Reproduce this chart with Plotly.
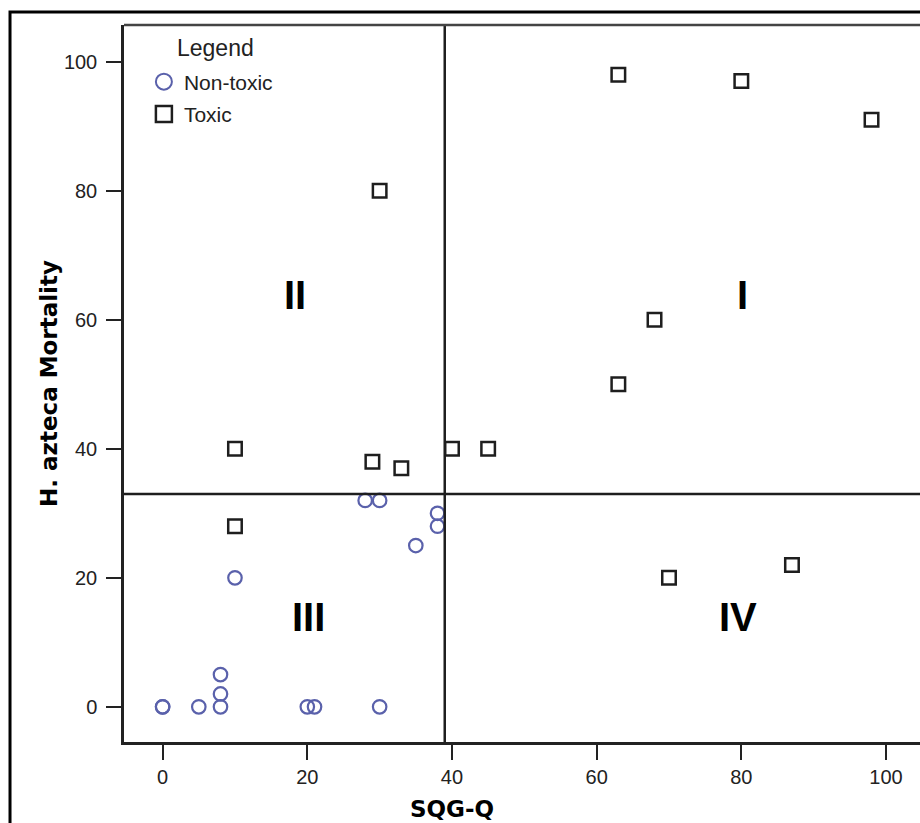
import plotly.graph_objects as go

# ---- data ----
nontoxic_x = [28, 30, 38, 38, 35, 10, 8, 8, 8, 0, 0, 5, 20, 21, 30]
nontoxic_y = [32, 32, 30, 28, 25, 20, 5, 2, 0, 0, 0, 0, 0, 0, 0]

toxic_x = [30, 63, 80, 98, 68, 63, 10, 29, 33, 40, 45, 10, 70, 87]
toxic_y = [80, 98, 97, 91, 60, 50, 40, 38, 37, 40, 40, 28, 20, 22]

x_ticks = [0, 20, 40, 60, 80, 100]
y_ticks = [0, 20, 40, 60, 80, 100]

x_split = 39   # SQG-Q threshold
y_split = 33   # mortality threshold

quad_labels = ["I", "II", "III", "IV"]
quad_x = [80.2, 18.3, 20.1, 79.6]
quad_y = [63.9, 63.9, 13.9, 13.9]

BLUE = "#5a61ab"
DARK = "#1e1e1e"
TICKFONT = "Liberation Sans, Arial, sans-serif"
TITLEFONT = "DejaVu Sans, sans-serif"

fig = go.Figure()
fig.add_trace(go.Scatter(
    x=nontoxic_x, y=nontoxic_y, mode="markers", name="Non-toxic",
    legendgroup="nontoxic", showlegend=False,
    marker=dict(symbol="circle-open", size=13.5, color=BLUE,
                line=dict(color=BLUE, width=2.2)),
))
fig.add_trace(go.Scatter(
    x=toxic_x, y=toxic_y, mode="markers", name="Toxic",
    legendgroup="toxic", showlegend=False,
    marker=dict(symbol="square-open", size=13.5, color=DARK,
                line=dict(color=DARK, width=2.5)),
))
# legend entries (larger symbols, as in the original legend)
fig.add_trace(go.Scatter(
    x=[None], y=[None], mode="markers", name="Non-toxic",
    legendgroup="nontoxic", showlegend=True,
    marker=dict(symbol="circle-open", size=22, color=BLUE,
                line=dict(color=BLUE, width=2)),
))
fig.add_trace(go.Scatter(
    x=[None], y=[None], mode="markers", name="Toxic",
    legendgroup="toxic", showlegend=True,
    marker=dict(symbol="square-open", size=16, color=DARK,
                line=dict(color=DARK, width=2.5)),
))

# quadrant dividing lines
fig.add_shape(type="line", xref="x", yref="paper", x0=x_split, x1=x_split,
              y0=0, y1=1, line=dict(color=DARK, width=2.5))
fig.add_shape(type="line", xref="paper", yref="y", x0=0, x1=1,
              y0=y_split, y1=y_split, line=dict(color=DARK, width=2.5))
# top border of plot area
fig.add_shape(type="line", xref="paper", yref="paper", x0=0, x1=1.01,
              y0=1, y1=1, line=dict(color="#444", width=2.5))
# outer frame
fig.add_shape(type="rect", xref="paper", yref="paper",
              x0=-0.1432, x1=1.05, y0=-0.2, y1=1.0181,
              line=dict(color="black", width=3), layer="above")

for t, qx, qy in zip(quad_labels, quad_x, quad_y):
    fig.add_annotation(x=qx, y=qy, xref="x", yref="y", text=t, showarrow=False,
                       font=dict(family=TICKFONT, size=40, color="black",
                                 weight="bold"),
                       xanchor="center", yanchor="middle")

# legend heading
fig.add_annotation(x=(215 - 124) / 796, y=1 - (48 - 25) / 717, xref="paper",
                   yref="paper", text="Legend", showarrow=False,
                   font=dict(family=TICKFONT, size=23, color="#222"),
                   xanchor="center", yanchor="middle")

# x-axis title (offset to the left like the original)
fig.add_annotation(x=(452 - 124) / 796, y=(742 - 809) / 717, xref="paper",
                   yref="paper", text="<b>SQG-Q</b>", showarrow=False,
                   font=dict(family=TITLEFONT, size=23, color="black"),
                   xanchor="center", yanchor="middle")

fig.update_layout(
    width=920, height=823,
    margin=dict(l=124, r=0, t=25, b=81),
    paper_bgcolor="white", plot_bgcolor="white",
    showlegend=True,
    legend=dict(
        x=0.025, y=1 - (61.5 - 25) / 717, xanchor="left", yanchor="top",
        bgcolor="rgba(0,0,0,0)",
        font=dict(family=TICKFONT, size=21, color="#222"),
        itemsizing="trace", tracegroupgap=2,
    ),
    xaxis=dict(
        range=[-5.34, 104.7], tickmode="array", tickvals=x_ticks,
        showgrid=False, zeroline=False, showline=True, linecolor="#222",
        linewidth=2.5, ticks="outside", ticklen=15, tickwidth=2,
        tickcolor="#222", ticklabelstandoff=0,
        tickfont=dict(family=TICKFONT, size=20, color="#222"),
    ),
    yaxis=dict(
        range=[-5.45, 105.7], tickmode="array", tickvals=y_ticks,
        showgrid=False, zeroline=False, showline=True, linecolor="#222",
        linewidth=2.5, ticks="outside", ticklen=15, tickwidth=2,
        tickcolor="#222", ticklabelstandoff=5,
        tickfont=dict(family=TICKFONT, size=20, color="#222"),
        title=dict(text="<b>H. azteca Mortality</b>", standoff=0,
                   font=dict(family=TITLEFONT, size=23, color="black")),
    ),
)

fig.write_html("out.html")
